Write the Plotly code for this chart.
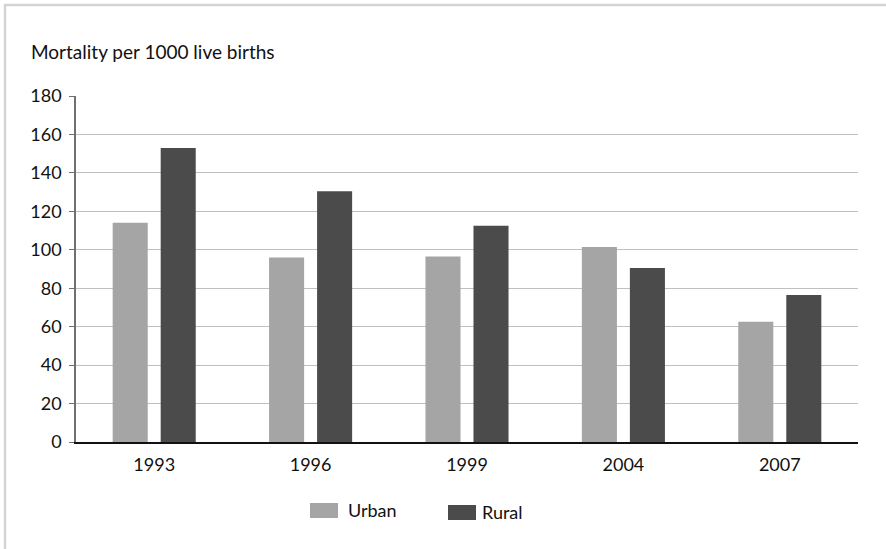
import plotly.graph_objects as go

years = ["1993", "1996", "1999", "2004", "2007"]
urban = [114, 96, 96.5, 101.5, 62.5]
rural = [153, 130.5, 112.5, 90.5, 76.5]
y_ticks = [0, 20, 40, 60, 80, 100, 120, 140, 160, 180]
series_names = ["Urban", "Rural"]
colors = ["#a5a5a5", "#4b4b4b"]

W, H = 886, 549
L, R, T, B = 76, 28, 96, 107
pw, ph = W - L - R, H - T - B

def px(x):
    return (x - L) / pw

def py(y):
    return (H - B - y) / ph

FONT = "Lato, 'Open Sans', sans-serif"
FS = 18

fig = go.Figure()
for name, vals, col in zip(series_names, [urban, rural], colors):
    fig.add_trace(go.Bar(x=years, y=vals, name=name, marker=dict(color=col, line=dict(width=0)),
                         showlegend=False))

fig.update_layout(
    width=W, height=H,
    margin=dict(l=L, r=R, t=T, b=B),
    paper_bgcolor="white", plot_bgcolor="white",
    barmode="group", bargap=0.386, bargroupgap=0.27,
    font=dict(family=FONT, size=FS, color="#111111"),
    xaxis=dict(showline=True, linecolor="#111111", linewidth=1.5, showgrid=False,
               ticks="", tickfont=dict(size=FS), ticklabelstandoff=6),
    yaxis=dict(range=[0, 180], tickvals=y_ticks, showgrid=True, gridcolor="#c0c0c0",
               gridwidth=1.3, showline=True, linecolor="#707070", linewidth=1.5,
               ticks="outside", ticklen=5, tickcolor="#707070", tickwidth=1.3,
               zeroline=False, tickfont=dict(size=FS), ticklabelstandoff=4),
)

shapes = [
    dict(type="rect", xref="paper", yref="paper", x0=px(5), x1=px(W + 20), y0=py(5), y1=py(H + 20),
         line=dict(color="#d4d4d4", width=2.5), fillcolor="rgba(0,0,0,0)", layer="below"),
]
annotations = [
    dict(text="Mortality per 1000 live births", xref="paper", yref="paper", x=px(29), y=py(52),
         xanchor="left", yanchor="middle", showarrow=False, font=dict(size=19, family=FONT, color="#111111")),
]
# legend
leg = [(310, 346, "Urban", colors[0], 510), (448, 480, "Rural", colors[1], 512)]
for sx, tx, label, col, ty in leg:
    shapes.append(dict(type="rect", xref="paper", yref="paper", x0=px(sx), x1=px(sx + 28),
                       y0=py(503 + (ty - 510)), y1=py(518 + (ty - 510)), fillcolor=col, line=dict(width=0)))
    annotations.append(dict(text=label, xref="paper", yref="paper", x=px(tx), y=py(ty),
                            xanchor="left", yanchor="middle", showarrow=False,
                            font=dict(size=FS, family=FONT, color="#111111")))
fig.update_layout(shapes=shapes, annotations=annotations)

fig.write_html("out.html", config={"displayModeBar": False},
               post_script="document.body.style.margin='0';")
